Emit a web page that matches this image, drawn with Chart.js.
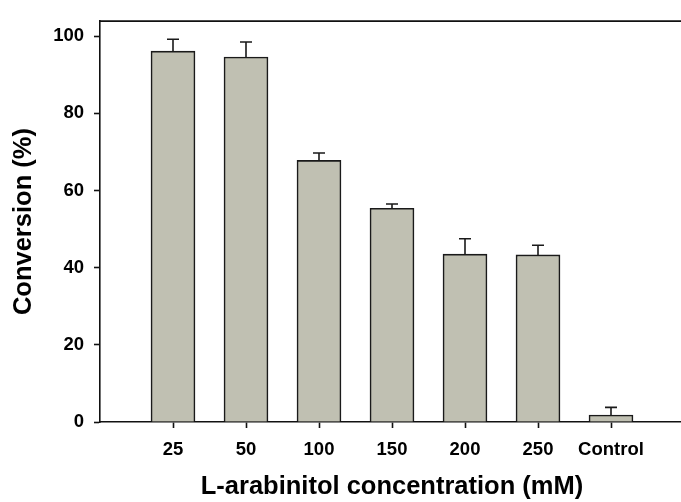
<!DOCTYPE html>
<html>
<head>
<meta charset="utf-8">
<script src="https://cdn.jsdelivr.net/npm/chart.js@4"></script>
<style>
    body { margin: 0; overflow: hidden; background: #fff; }
    #box { width: 700px; height: 502px; }
</style>
</head>
<body>
<div id="box"><canvas id="myChart" width="700" height="502"></canvas></div>
<script>
var concentracoes = [`25`, `50`, `100`, `150`, `200`, `250`, `Control`];
var conversao = [96.1, 94.6, 67.8, 55.4, 43.5, 43.3, 1.8];
var desvio = [3.1, 3.9, 1.9, 1.1, 4.0, 2.5, 2.0];
var ticks_y = [0, 20, 40, 60, 80, 100];

var pontos = [];
for (var i = 0; i < conversao.length; i++) {
    pontos.push({ x: i + 1, y: conversao[i] });
}

// barras de erro (so a parte de cima aparece)
var barras_erro = {
    id: 'barras_erro',
    afterDatasetsDraw: function (chart) {
        var ctx = chart.ctx;
        var escala_y = chart.scales.y;
        var barras = chart.getDatasetMeta(0).data;
        ctx.save();
        ctx.strokeStyle = '#1a1a1a';
        ctx.lineWidth = 1.6;
        for (var i = 0; i < barras.length; i++) {
            var x = barras[i].x;
            var topo = escala_y.getPixelForValue(conversao[i]);
            var cima = escala_y.getPixelForValue(conversao[i] + desvio[i]);
            ctx.beginPath();
            ctx.moveTo(x, topo);
            ctx.lineTo(x, cima);
            ctx.moveTo(x - 6, cima);
            ctx.lineTo(x + 6, cima);
            ctx.stroke();
        }
        ctx.restore();
    }
};

// linha de cima do quadro
var borda_topo = {
    id: 'borda_topo',
    afterDraw: function (chart) {
        var a = chart.chartArea;
        var ctx = chart.ctx;
        ctx.save();
        ctx.strokeStyle = '#111';
        ctx.lineWidth = 1.6;
        ctx.beginPath();
        ctx.moveTo(a.left, a.top);
        ctx.lineTo(a.right, a.top);
        ctx.stroke();
        ctx.restore();
    }
};

const ctx = document.getElementById('myChart');
new Chart(ctx, {
    type: 'bar',
    data: {
        datasets: [{
            data: pontos,
            backgroundColor: '#c0c0b2',
            borderColor: '#1a1a1a',
            borderWidth: 1.6,
            barThickness: 44
        }]
    },
    options: {
        responsive: false,
        animation: false,
        layout: { padding: { top: 19, right: 16, left: 0, bottom: 0 } },
        plugins: { legend: { display: false }, tooltip: { enabled: false } },
        scales: {
            x: {
                type: 'linear',
                min: 0,
                max: 8,
                offset: false,
                afterFit: function (s) { s.height = 80; },
                afterBuildTicks: function (s) {
                    s.ticks = s.ticks.filter(function (t) { return t.value >= 1 && t.value <= concentracoes.length; });
                },
                ticks: {
                    stepSize: 1,
                    padding: 11,
                    color: '#000',
                    font: { family: 'Liberation Sans', size: 18.5, weight: 'bold' },
                    callback: function (v) { return concentracoes[v - 1]; }
                },
                grid: { offset: false, drawOnChartArea: false, tickLength: 6, color: '#111', tickWidth: 1.6 },
                border: { color: '#111', width: 1.6 },
                title: {
                    display: true,
                    text: 'L-arabinitol concentration (mM)',
                    color: '#000',
                    padding: { top: 0, bottom: 0 },
                    font: { family: 'Liberation Sans', size: 25.5, weight: 'bold' }
                }
            },
            y: {
                min: 0,
                max: 103.9,
                afterFit: function (s) { s.width = 100; },
                afterBuildTicks: function (s) {
                    s.ticks = ticks_y.map(function (v) { return { value: v }; });
                },
                ticks: {
                    padding: 10,
                    color: '#000',
                    font: { family: 'Liberation Sans', size: 18.5, weight: 'bold' }
                },
                grid: { drawOnChartArea: false, tickLength: 6, color: '#111', tickWidth: 1.6 },
                border: { color: '#111', width: 1.6 },
                title: {
                    display: true,
                    text: 'Conversion (%)',
                    color: '#000',
                    padding: { top: 9, bottom: 0 },
                    font: { family: 'Liberation Sans', size: 25.5, weight: 'bold' }
                }
            }
        }
    },
    plugins: [barras_erro, borda_topo]
});
</script>
</body>
</html>
